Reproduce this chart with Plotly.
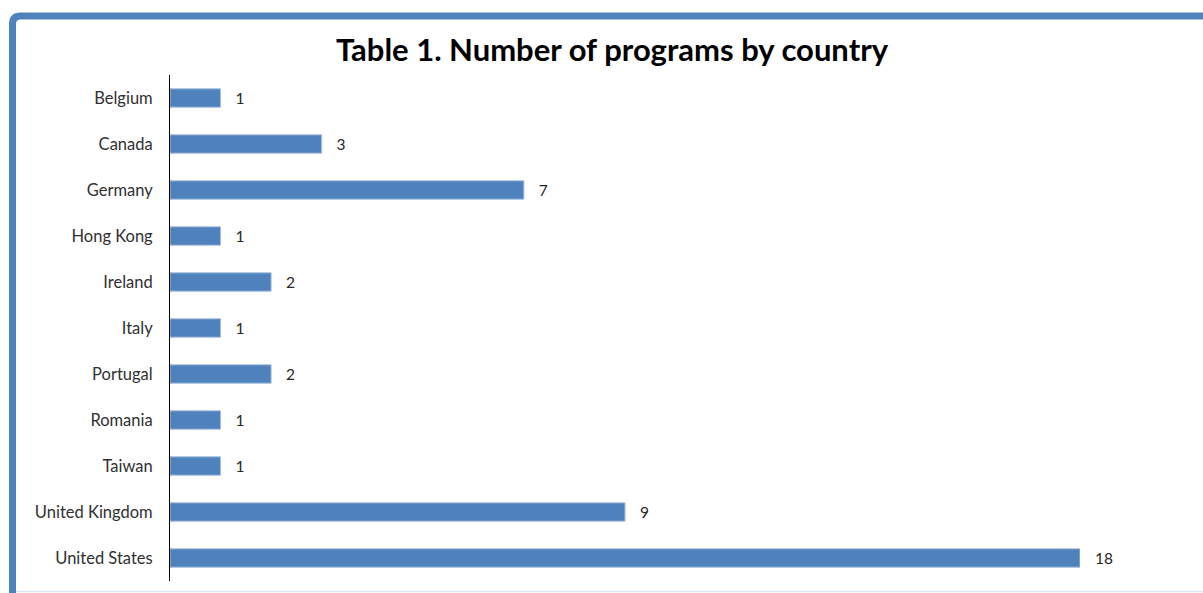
import plotly.graph_objects as go

countries = ["Belgium", "Canada", "Germany", "Hong Kong", "Ireland", "Italy",
             "Portugal", "Romania", "Taiwan", "United Kingdom", "United States"]
programs = [1, 3, 7, 1, 2, 1, 2, 1, 1, 9, 18]

W, H = 1203, 593
L, R, T, B = 170, 1080, 75, 581  # plot area in pixels

fig = go.Figure(go.Bar(
    x=programs, y=countries, orientation="h",
    marker=dict(color="#4F81BD", line=dict(color="#A7BFDE", width=1)),
    text=["\u00a0\u00a0\u00a0" + str(v) for v in programs], textposition="outside",
    textfont=dict(family="Lato, Open Sans, sans-serif", size=16, color="#262626"),
    cliponaxis=False, width=0.4,
))

fig.update_layout(
    width=W, height=H,
    margin=dict(l=L, r=W - R, t=T, b=H - B),
    paper_bgcolor="white", plot_bgcolor="white",
    showlegend=False,
    title=dict(text="<b>Table 1. Number of programs by country</b>",
               x=612 / W, xanchor="center", y=1 - 50 / H, yanchor="middle",
               font=dict(family="Lato, Open Sans, sans-serif", size=31, color="#000000")),
    font=dict(family="Lato, Open Sans, sans-serif", size=16, color="#262626"),
)
fig.update_xaxes(range=[0, 18], showgrid=False, zeroline=False, showticklabels=False,
                 ticks="", showline=False, fixedrange=True)
fig.update_yaxes(autorange=False, range=[10.5, -0.5], showgrid=False, zeroline=False,
                 showline=True, linecolor="#000000", linewidth=1, ticks="",
                 ticklabelstandoff=13, tickfont=dict(size=16.5, color="#303030"),
                 fixedrange=True)

# shapes in paper coords (relative to plot area)
def px(x):
    return (x - L) / (R - L)
def py(y):
    return (B - y) / (B - T)

fig.add_shape(type="path", xref="paper", yref="paper",
              path=f"M {px(12.5)},{py(600)} L {px(12.5)},{py(24)} Q {px(12.5)},{py(16)} {px(20.5)},{py(16)} L {px(1210)},{py(16)}",
              line=dict(color="#4F81BD", width=7), layer="above")
fig.add_shape(type="line", xref="paper", yref="paper",
              x0=px(16), x1=px(1210), y0=py(591.5), y1=py(591.5),
              line=dict(color="#DCE6F2", width=1.5))

fig.write_html("out.html", config={"displayModeBar": False},
               post_script="document.body.style.margin='0';document.body.style.overflow='hidden';")
